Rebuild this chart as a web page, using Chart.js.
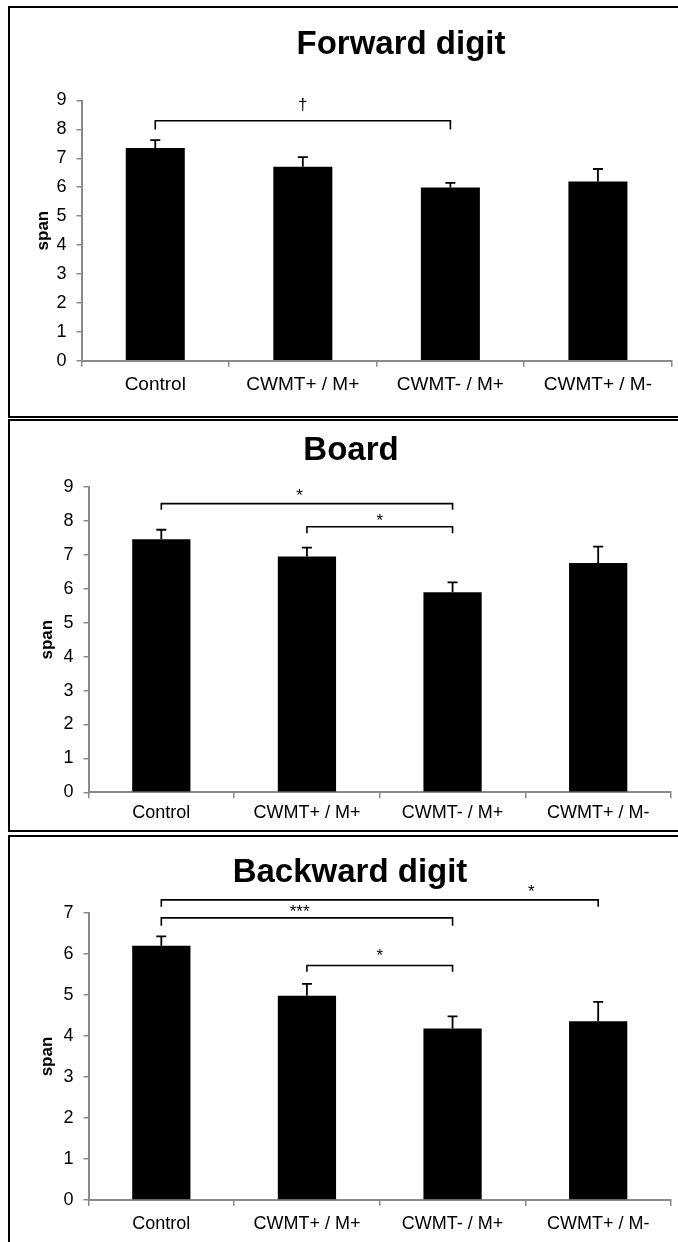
<!DOCTYPE html>
<html>
<head>
<meta charset="utf-8">
<script src="https://cdn.jsdelivr.net/npm/chart.js@4.4.1/dist/chart.umd.min.js"></script>
<style>
  body { margin: 0; background: #fff; width: 678px; height: 1242px; overflow: hidden; position: relative; }
  .box { position: absolute; left: 8px; width: 690px; border: 2px solid #000; box-sizing: border-box; }
  canvas { position: absolute; left: 0; }
</style>
</head>
<body>
<div class="box" style="top:6px;height:412px"></div>
<div class="box" style="top:419px;height:413px"></div>
<div class="box" style="top:835px;height:420px"></div>
<canvas id="fwd" width="678" height="416" style="top:0px"></canvas>
<canvas id="brd" width="678" height="412" style="top:418px"></canvas>
<canvas id="bwd" width="678" height="408" style="top:834px"></canvas>
<script>
const categories = ['Control', 'CWMT+ / M+', 'CWMT- / M+', 'CWMT+ / M-'];

const forwardMean = [7.36, 6.71, 5.99, 6.20];
const forwardErr = [0.27, 0.33, 0.16, 0.43];
const boardMean = [7.46, 6.95, 5.90, 6.76];
const boardErr = [0.28, 0.26, 0.29, 0.48];
const backwardMean = [6.20, 4.98, 4.18, 4.36];
const backwardErr = [0.23, 0.29, 0.30, 0.47];

const forwardMax = 9;
const boardMax = 9;
const backwardMax = 7;

// significance brackets: from/to category, line level, end level, label, label position, label baseline
const forwardSig = [
  { from: 0, to: 2, line: 8.30, drop: 8.0, label: '\u2020', at: 1.0, base: 8.67 }
];
const boardSig = [
  { from: 0, to: 2, line: 8.51, drop: 8.33, label: '*', at: 0.95, base: 8.60 },
  { from: 1, to: 2, line: 7.83, drop: 7.64, label: '*', at: 1.5, base: 7.86 }
];
const backwardSig = [
  { from: 0, to: 3, line: 7.32, drop: 7.15, label: '*', at: 2.54, base: 7.38 },
  { from: 0, to: 2, line: 6.88, drop: 6.69, label: '***', at: 0.95, base: 6.90 },
  { from: 1, to: 2, line: 5.72, drop: 5.57, label: '*', at: 1.5, base: 5.82 }
];

const FONT = '"Liberation Sans", Arial, sans-serif';
const AXIS = '#8a8a8a';

function extras(means, errs, sig, title) {
  return {
    id: 'extras',
    afterDatasetsDraw(chart) {
      const ctx = chart.ctx;
      const xs = chart.scales.x, ys = chart.scales.y;
      const meta = chart.getDatasetMeta(0);
      ctx.save();
      ctx.strokeStyle = '#000';
      ctx.fillStyle = '#000';
      // error bars (upper only)
      ctx.lineWidth = 1.8;
      errs.forEach((e, i) => {
        const px = meta.data[i].x;
        const base = ys.getPixelForValue(means[i]);
        const top = ys.getPixelForValue(means[i] + e);
        ctx.beginPath();
        ctx.moveTo(px, base);
        ctx.lineTo(px, top);
        ctx.moveTo(px - 5, top);
        ctx.lineTo(px + 5, top);
        ctx.stroke();
      });
      // brackets
      ctx.lineWidth = 1.6;
      ctx.font = '17px ' + FONT;
      ctx.textAlign = 'center';
      ctx.textBaseline = 'alphabetic';
      sig.forEach(s => {
        const x1 = xs.getPixelForValue(s.from);
        const x2 = xs.getPixelForValue(s.to);
        const yl = ys.getPixelForValue(s.line);
        const yd = ys.getPixelForValue(s.drop);
        ctx.beginPath();
        ctx.moveTo(x1, yd);
        ctx.lineTo(x1, yl);
        ctx.lineTo(x2, yl);
        ctx.lineTo(x2, yd);
        ctx.stroke();
        ctx.fillText(s.label, xs.getPixelForValue(s.at), ys.getPixelForValue(s.base));
      });
      // panel title
      ctx.font = 'bold 33px ' + FONT;
      ctx.fillText(title.text, title.x, title.y);
      ctx.restore();
    }
  };
}

function makeChart(id, means, errs, max, sig, title, area, fonts) {
  const canvas = document.getElementById(id);
  const xh = 44;
  return new Chart(canvas, {
    type: 'bar',
    data: {
      labels: categories,
      datasets: [{
        data: means,
        backgroundColor: '#000',
        borderWidth: 0,
        barPercentage: 0.4,
        categoryPercentage: 1.0
      }]
    },
    options: {
      responsive: false,
      animation: false,
      devicePixelRatio: 1,
      layout: {
        padding: {
          left: 0,
          right: canvas.width - area.right,
          top: area.top,
          bottom: canvas.height - area.bottom - xh
        }
      },
      plugins: { legend: { display: false }, title: { display: false }, tooltip: { enabled: false } },
      scales: {
        x: {
          offset: true,
          grid: { offset: true, drawOnChartArea: false, drawTicks: true, tickLength: 6, color: AXIS, lineWidth: 1.5 },
          border: { color: AXIS, width: 2 },
          ticks: { color: '#000', font: { family: FONT, size: fonts.label }, padding: fonts.labelPad, maxRotation: 0 },
          afterFit: s => { s.height = xh; }
        },
        y: {
          min: 0,
          max: max,
          ticks: { stepSize: 1, color: '#000', font: { family: FONT, size: fonts.tick }, padding: 10 },
          grid: { drawOnChartArea: false, tickLength: 5, color: AXIS, lineWidth: 1.5 },
          border: { color: AXIS, width: 2 },
          title: {
            display: true, text: 'span', color: '#000',
            font: { family: FONT, size: 17, weight: 'bold' },
            padding: { top: fonts.titlePad, bottom: 0 }
          },
          afterFit: s => { s.width = area.left; }
        }
      }
    },
    plugins: [extras(means, errs, sig, title)]
  });
}

makeChart('fwd', forwardMean, forwardErr, forwardMax, forwardSig,
  { text: 'Forward digit', x: 401, y: 54 },
  { left: 81.5, right: 671.7, top: 100.5, bottom: 360.7 },
  { tick: 18, label: 19, labelPad: 7, titlePad: 33 });

makeChart('brd', boardMean, boardErr, boardMax, boardSig,
  { text: 'Board', x: 351, y: 42 },
  { left: 88.5, right: 671, top: 69, bottom: 374.3 },
  { tick: 18, label: 18, labelPad: 4, titlePad: 37 });

makeChart('bwd', backwardMean, backwardErr, backwardMax, backwardSig,
  { text: 'Backward digit', x: 350, y: 48 },
  { left: 88.5, right: 671, top: 79, bottom: 366 },
  { tick: 18, label: 18, labelPad: 7, titlePad: 37 });
</script>
</body>
</html>
